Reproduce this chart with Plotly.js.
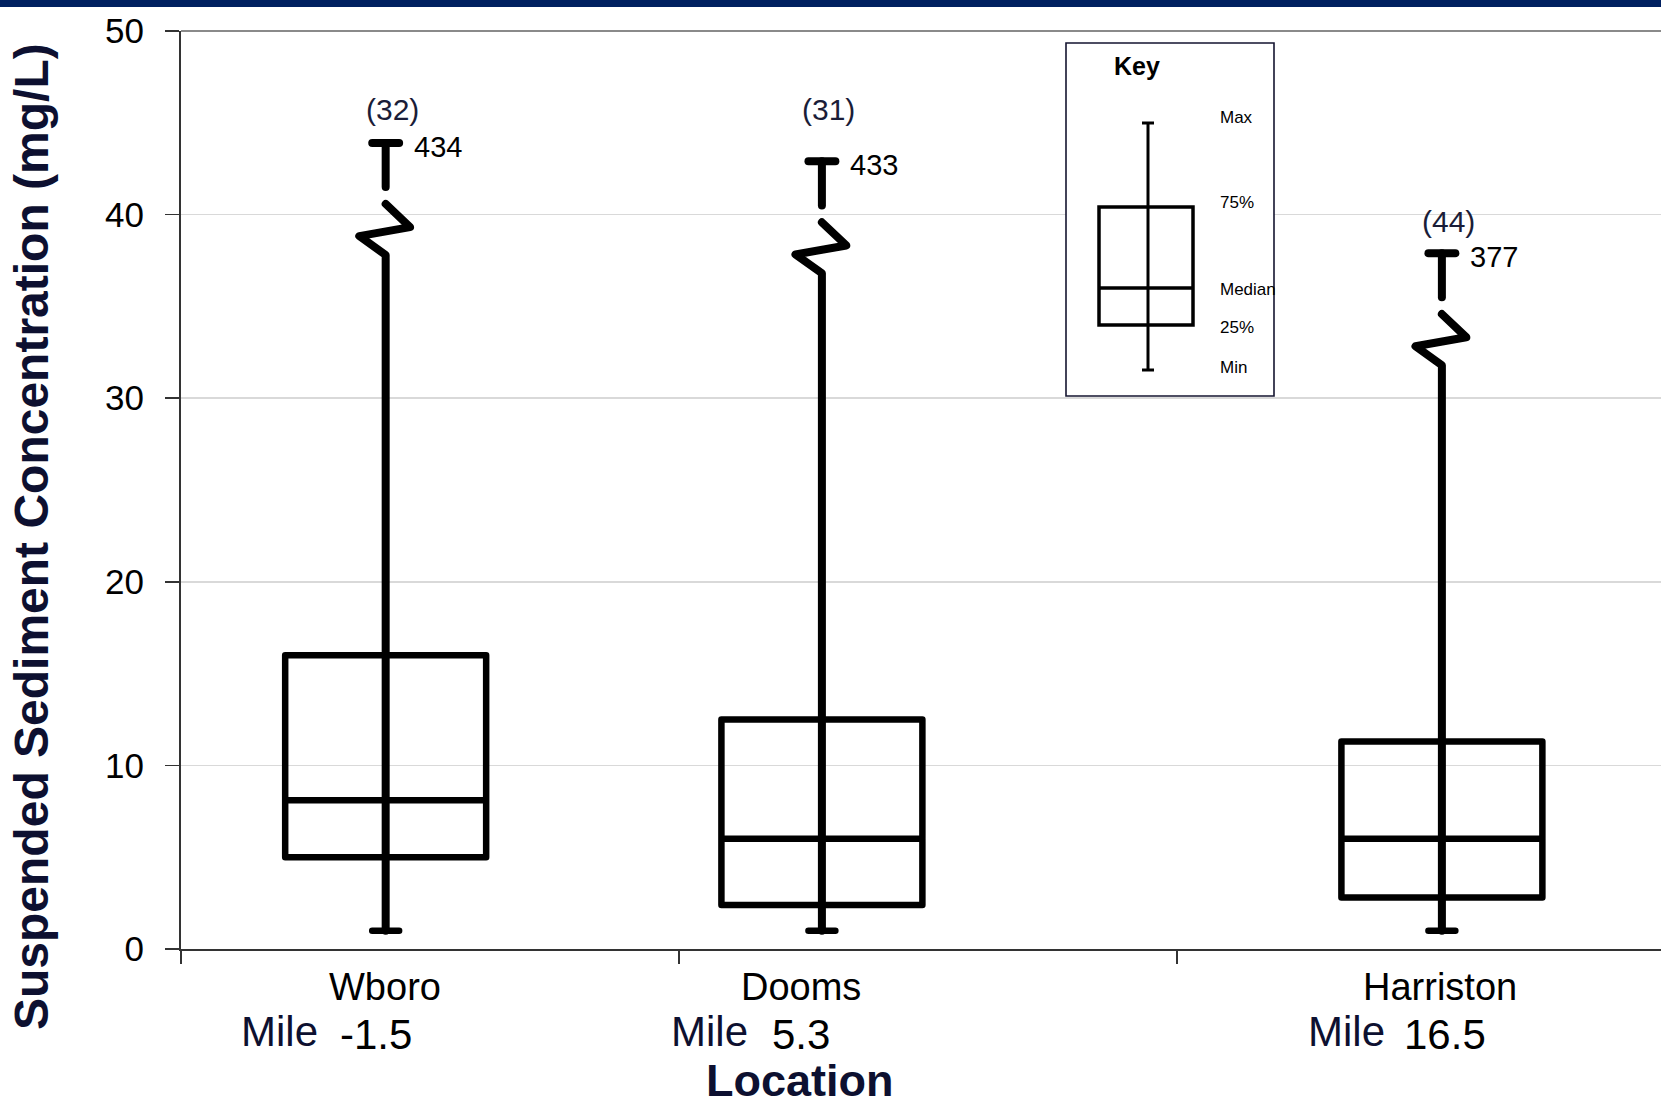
<!DOCTYPE html>
<html>
<head>
<meta charset="utf-8">
<script src="https://cdn.plot.ly/plotly-3.0.1.min.js"></script>
<style>
  html, body { margin: 0; padding: 0; background: #fff; }
  #chart { width: 1661px; height: 1107px; }
  .scatterlayer .js-line { stroke-linecap: round; stroke-linejoin: round; }
  .boxlayer path { stroke-linejoin: round; stroke-linecap: round; }
</style>
</head>
<body>
<div id="chart"></div>
<script>
// ---------------- DATA ----------------
const locations   = ['Wboro', 'Dooms', 'Harriston'];
const riverMile   = ['-1.5', '5.3', '16.5'];
const sampleCount = [32, 31, 44];
const minVal      = [1.0, 1.0, 1.0];
const q1Val       = [5.0, 2.4, 2.8];
const medianVal   = [8.1, 6.0, 6.0];
const q3Val       = [16.0, 12.5, 11.3];
const maxVal      = [434, 433, 377];
const yTicks      = [0, 10, 20, 30, 40, 50];
const keyLabels   = ['Max', '75%', 'Median', '25%', 'Min'];

// ---------------- LAYOUT CONFIG (positions / sizes) ----------------
const boxPos      = [0.411, 1.287, 2.532];   // x position of each box on the location axis
const capShownY   = [43.9, 42.9, 37.9];      // where the broken max whisker cap is drawn
const countLabelY = [45.7, 45.7, 39.65];
const catLabelX   = [0.410, 1.245, 2.528];
const mileWordX   = [0.116, 0.980, 2.259];
const mileNumX    = [0.315, 1.183, 2.452];
const boxWidth    = 0.4036;
const brk = {stem: 2.40, zigTop: 3.32, zigRight: 4.58, zigLeft: 5.07, zigBottom: 6.10,
             dxRight: 0.049, dxLeft: -0.053, capHalf: 0.027};

const PLOT = {l: 181, t: 31, w: 1480, h: 918};
const xp = p => (p - PLOT.l) / PLOT.w;
const yp = p => (PLOT.t + PLOT.h - p) / PLOT.h;

const FONT = '"Liberation Sans", Arial, sans-serif';
const NAVY = '#0d1030';

// ---------------- TRACES ----------------
const boxTrace = {
  type: 'box',
  x: boxPos,
  q1: q1Val,
  median: medianVal,
  q3: q3Val,
  lowerfence: minVal,
  upperfence: q3Val,
  width: boxWidth,
  whiskerwidth: 0.134,
  boxpoints: false,
  fillcolor: 'rgba(0,0,0,0)',
  line: {color: '#000', width: 6.5},
  hoverinfo: 'skip',
  showlegend: false
};

const wx = [], wy = [];
for (let i = 0; i < locations.length; i++) {
  const x = boxPos[i], c = capShownY[i];
  // main whisker through the box up to the break, then the zigzag
  wx.push(x, x, x + brk.dxLeft, x + brk.dxRight, x, null);
  wy.push(minVal[i], c - brk.zigBottom, c - brk.zigLeft, c - brk.zigRight, c - brk.zigTop, null);
  // stem above the break
  wx.push(x, x, null);
  wy.push(c - brk.stem, c, null);
  // cap
  wx.push(x - brk.capHalf, x + brk.capHalf, null);
  wy.push(c, c, null);
}
const whiskerTrace = {
  type: 'scatter', mode: 'lines', x: wx, y: wy,
  line: {color: '#000', width: 8},
  hoverinfo: 'skip', showlegend: false, connectgaps: false
};

// ---------------- ANNOTATIONS ----------------
const annotations = [];
for (let i = 0; i < locations.length; i++) {
  annotations.push({
    x: boxPos[i] + 0.014, y: countLabelY[i], xref: 'x', yref: 'y',
    text: '(' + sampleCount[i] + ')', showarrow: false,
    xanchor: 'center', yanchor: 'middle',
    font: {family: FONT, size: 30, color: '#1a1d38'}
  });
  annotations.push({
    x: boxPos[i] + 0.052, y: capShownY[i] - 0.2, xref: 'x', yref: 'y',
    text: String(maxVal[i]), showarrow: false,
    xanchor: 'left', yanchor: 'middle',
    font: {family: FONT, size: 29, color: '#000'}
  });
  annotations.push({
    x: catLabelX[i], y: yp(987), xref: 'x', yref: 'paper',
    text: locations[i], showarrow: false,
    xanchor: 'center', yanchor: 'middle',
    font: {family: FONT, size: 38, color: '#000'}
  });
  annotations.push({
    x: mileWordX[i], y: yp(1031), xref: 'x', yref: 'paper',
    text: 'Mile', showarrow: false,
    xanchor: 'left', yanchor: 'middle',
    font: {family: FONT, size: 42, color: NAVY}
  });
  annotations.push({
    x: mileNumX[i], y: yp(1034), xref: 'x', yref: 'paper',
    text: riverMile[i], showarrow: false,
    xanchor: 'left', yanchor: 'middle',
    font: {family: FONT, size: 42, color: '#000'}
  });
}
// axis titles
annotations.push({
  x: xp(31), y: yp(537), xref: 'paper', yref: 'paper',
  text: '<b>Suspended Sediment Concentration (mg/L)</b>', showarrow: false,
  textangle: -90, xanchor: 'center', yanchor: 'middle',
  font: {family: FONT, size: 48, color: NAVY}
});
annotations.push({
  x: xp(800), y: yp(1080), xref: 'paper', yref: 'paper',
  text: '<b>Location</b>', showarrow: false,
  xanchor: 'center', yanchor: 'middle',
  font: {family: FONT, size: 45, color: NAVY}
});
// key
annotations.push({
  x: xp(1137), y: yp(66), xref: 'paper', yref: 'paper',
  text: '<b>Key</b>', showarrow: false, xanchor: 'center', yanchor: 'middle',
  font: {family: FONT, size: 25, color: '#000'}
});
const keyLabelPy = [117, 203, 289, 327, 367];
keyLabels.forEach((t, i) => {
  annotations.push({
    x: xp(1218), y: yp(keyLabelPy[i]), xref: 'paper', yref: 'paper',
    text: t, showarrow: false, xanchor: 'left', yanchor: 'middle',
    font: {family: FONT, size: 17, color: '#000'}
  });
});

// ---------------- SHAPES ----------------
const pline = (x0, y0, x1, y1, w, c) => ({
  type: 'line', xref: 'paper', yref: 'paper',
  x0: xp(x0), y0: yp(y0), x1: xp(x1), y1: yp(y1),
  line: {color: c || '#000', width: w}
});
const shapes = [
  // navy band at top
  {type: 'rect', xref: 'paper', yref: 'paper', x0: xp(0), x1: xp(1661), y0: yp(7), y1: yp(0),
   fillcolor: '#002060', line: {width: 0}},
  // top border of plot
  pline(181, 31, 1661, 31, 2, '#8a8a8a'),
  // key frame
  {type: 'rect', xref: 'paper', yref: 'paper', x0: xp(1066), x1: xp(1274), y0: yp(396), y1: yp(43),
   fillcolor: '#fff', line: {color: '#151530', width: 1.6}},
  pline(1148, 123, 1148, 370, 3),
  pline(1142, 123, 1154, 123, 3),
  pline(1142, 370, 1154, 370, 3),
  {type: 'rect', xref: 'paper', yref: 'paper', x0: xp(1099), x1: xp(1193), y0: yp(325), y1: yp(207),
   line: {color: '#000', width: 3.5}},
  pline(1099, 288, 1193, 288, 3.5)
];

const layout = {
  width: 1661, height: 1107,
  margin: {l: PLOT.l, r: 0, t: PLOT.t, b: 1107 - PLOT.t - PLOT.h, pad: 0},
  paper_bgcolor: '#fff', plot_bgcolor: '#fff',
  showlegend: false,
  font: {family: FONT, color: '#000'},
  xaxis: {
    range: [0, 2.972], tickmode: 'array', tickvals: [0, 1, 2],
    showticklabels: false, ticks: 'outside', ticklen: 13, tickwidth: 1.5, tickcolor: '#333',
    showline: true, linecolor: '#333', linewidth: 2,
    showgrid: false, zeroline: false, fixedrange: true
  },
  yaxis: {
    range: [0, 50], tickmode: 'array', tickvals: yTicks, ticktext: yTicks.map(String),
    ticks: 'outside', ticklen: 14, tickwidth: 1.5, tickcolor: '#333',
    tickfont: {family: FONT, size: 35, color: '#000'},
    ticklabelstandoff: 14,
    showline: true, linecolor: '#333', linewidth: 2,
    showgrid: true, gridcolor: '#d9d9d9', gridwidth: 1.5,
    zeroline: false, fixedrange: true
  },
  shapes: shapes,
  annotations: annotations
};

Plotly.newPlot('chart', [boxTrace, whiskerTrace], layout, {staticPlot: true, displayModeBar: false});
</script>
</body>
</html>
